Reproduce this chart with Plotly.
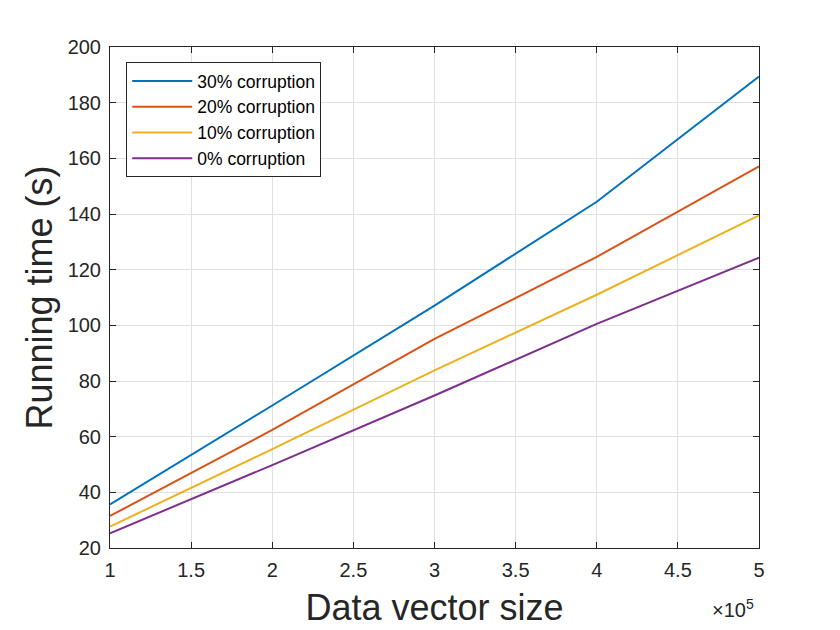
import plotly.graph_objects as go

# data vector size (x 10^5) and running times (s)
sizes = [1, 2, 3, 4, 5]
time_30 = [35.7, 71.2, 107.1, 144.4, 189.4]
time_20 = [31.5, 62.4, 95.1, 124.6, 157.1]
time_10 = [27.7, 55.5, 83.8, 111.0, 139.5]
time_0 = [25.3, 49.8, 74.8, 100.5, 124.3]

series = [
    ("30% corruption", time_30, "#0072BD"),
    ("20% corruption", time_20, "#D95319"),
    ("10% corruption", time_10, "#EDB120"),
    ("0% corruption", time_0, "#7E2F8E"),
]

fig = go.Figure()
for name, vals, color in series:
    fig.add_trace(go.Scatter(x=sizes, y=vals, mode="lines", name=name,
                             line=dict(color=color, width=2)))

axis_common = dict(
    showgrid=True, gridcolor="#DFDFDF", gridwidth=1,
    showline=True, linecolor="#262626", linewidth=1, mirror="ticks",
    ticks="inside", ticklen=6, tickcolor="#262626",
    tickfont=dict(size=20, color="#262626"),
    ticklabelstandoff=4,
    zeroline=False,
)

fig.update_xaxes(range=[1, 5], dtick=0.5,
                 title=dict(text="Data vector size", font=dict(size=36, color="#262626"), standoff=14),
                 **axis_common)
fig.update_yaxes(range=[20, 200], dtick=20,
                 title=dict(text="Running time (s)", font=dict(size=36, color="#262626"), standoff=4),
                 **axis_common)

fig.add_annotation(x=1, y=0, xref="paper", yref="paper", xanchor="right", yanchor="top",
                   yshift=-46, xshift=-3, showarrow=False,
                   text="×10<sup>5</sup>", font=dict(size=20, color="#262626"))

fig.update_layout(
    width=840, height=630,
    margin=dict(l=102, r=89, t=39, b=90),
    paper_bgcolor="white", plot_bgcolor="white",
    font=dict(family="Liberation Sans, Arial, sans-serif"),
    legend=dict(x=0.025, y=0.97, xanchor="left", yanchor="top",
                bgcolor="white", bordercolor="#262626", borderwidth=1,
                font=dict(size=17.5, color="#000000"), itemwidth=60,
                tracegroupgap=0),
    showlegend=True,
)

fig.write_html("out.html")
